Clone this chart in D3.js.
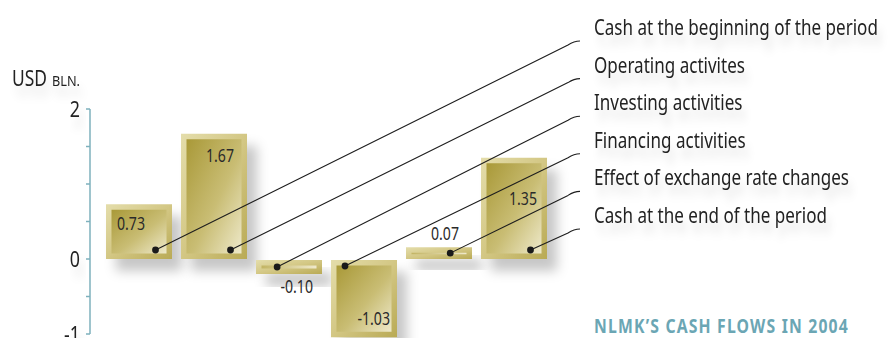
<!DOCTYPE html>
<html>
<head>
<meta charset="utf-8">
<script src="https://cdn.jsdelivr.net/npm/d3@7/dist/d3.min.js"></script>
<style>
  html, body { margin: 0; padding: 0; background: #ffffff; }
  svg { display: block; }
  text { font-family: "Noto Sans", "Open Sans", "DejaVu Sans", sans-serif; }
</style>
</head>
<body>
<svg id="chart" width="888" height="338"></svg>
<script>
// Cash flow components, USD bln.
const categories = [
  "Cash at the beginning of the period",
  "Operating activites",
  "Investing activities",
  "Financing activities",
  "Effect of exchange rate changes",
  "Cash at the end of the period"
];
const values = [0.73, 1.67, -0.10, -1.03, 0.07, 1.35];
const valueLabels = ["0.73", "1.67", "-0.10", "-1.03", "0.07", "1.35"];
const yTickValues = [2, 0, -1];
const yMinorTicks = [2, 1.5, 1, 0.5, 0, -0.5, -1];
const unitMain = "USD";
const unitSmall = "BLN.";
const title = "NLMK\u2019S CASH FLOWS IN 2004";

const W = 888, H = 338;
const svg = d3.select("#chart");
const defs = svg.append("defs");

// narrow the type the way a condensed face would: squeeze horizontally about the anchor
function condense(sel, factor) {
  sel.each(function() {
    const s = d3.select(this);
    const tx = +s.attr("x"), ty = +s.attr("y");
    s.attr("x", 0).attr("y", 0)
      .attr("transform", `translate(${tx},${ty}) scale(${factor},1)`);
  });
}

// ---- scales ----
const y = d3.scaleLinear().domain([-1, 2]).range([334, 109]);
const x = d3.scaleBand().domain(categories).range([106, 547]).paddingInner(0.12).paddingOuter(0);
const row = d3.scalePoint().domain(categories).range([41, 229]);

// ---- filters & gradients ----
function shadow(id, dx, dy, sd, op) {
  const f = defs.append("filter").attr("id", id)
    .attr("x", "-30%").attr("y", "-30%").attr("width", "180%").attr("height", "220%");
  f.append("feGaussianBlur").attr("in", "SourceAlpha").attr("stdDeviation", sd).attr("result", "b");
  f.append("feOffset").attr("in", "b").attr("dx", dx).attr("dy", dy).attr("result", "o");
  f.append("feFlood").attr("flood-color", "#000").attr("flood-opacity", op).attr("result", "c");
  f.append("feComposite").attr("in", "c").attr("in2", "o").attr("operator", "in").attr("result", "s");
  const m = f.append("feMerge");
  m.append("feMergeNode").attr("in", "s");
  m.append("feMergeNode").attr("in", "SourceGraphic");
}
shadow("barShadow", 10, 12, 6, 0.22);
shadow("textShadow", 5, 10, 5, 0.12);

const frameGrad = defs.append("linearGradient").attr("id", "frameGrad")
  .attr("x1", 0).attr("y1", 0).attr("x2", 1).attr("y2", 1);
frameGrad.append("stop").attr("offset", 0).attr("stop-color", "#e4ddab");
frameGrad.append("stop").attr("offset", 0.5).attr("stop-color", "#d3c784");
frameGrad.append("stop").attr("offset", 1).attr("stop-color", "#b9aa55");

const innerGrad = defs.append("linearGradient").attr("id", "innerGrad")
  .attr("x1", 0).attr("y1", 0).attr("x2", 1).attr("y2", 1);
innerGrad.append("stop").attr("offset", 0).attr("stop-color", "#a99938");
innerGrad.append("stop").attr("offset", 0.55).attr("stop-color", "#c9bd74");
innerGrad.append("stop").attr("offset", 1).attr("stop-color", "#eee9ca");

const stripeGrad = defs.append("linearGradient").attr("id", "stripeGrad")
  .attr("x1", 0).attr("y1", 0).attr("x2", 1).attr("y2", 0);
stripeGrad.append("stop").attr("offset", 0).attr("stop-color", "#c2b463");
stripeGrad.append("stop").attr("offset", 1).attr("stop-color", "#efe9cc");

// ---- bar geometry from values ----
const SMALL = 12, PAD = 6.5, INSET = 5.5;
const bars = categories.map((c, i) => {
  const v = values[i];
  const raw = Math.abs(y(v) - y(0));
  const h = raw < SMALL ? raw + PAD : raw;
  const x0 = x(c), w = x.bandwidth();
  const top = v >= 0 ? y(0) - h : y(0) + 1;
  return { c, v, i, x0, w, top, h, bottom: top + h, small: raw < SMALL };
});

// ---- y axis ----
const axisG = svg.append("g");
axisG.append("line")
  .attr("x1", 90).attr("x2", 90).attr("y1", y(2)).attr("y2", y(-1))
  .attr("stroke", "#7eb1bd").attr("stroke-width", 1.5);
axisG.selectAll("line.tick").data(yMinorTicks).join("line").attr("class", "tick")
  .attr("x1", 86).attr("x2", 90).attr("y1", d => y(d)).attr("y2", d => y(d))
  .attr("stroke", "#7eb1bd").attr("stroke-width", 1.5);
const tickText = axisG.selectAll("text").data(yTickValues).join("text")
  .attr("x", 80).attr("y", d => y(d) + 7.5)
  .attr("text-anchor", "end").attr("font-size", 21).attr("fill", "#222")
  .attr("filter", "url(#textShadow)")
  .text(d => d);
condense(tickText, 0.85);

const unitA = svg.append("text").attr("x", 12).attr("y", 86).attr("fill", "#222")
  .attr("font-size", 21).attr("filter", "url(#textShadow)").text(unitMain);
condense(unitA, 35 / unitA.node().getComputedTextLength());
const unitB = svg.append("text").attr("x", 52).attr("y", 86).attr("fill", "#222")
  .attr("font-size", 14.5).attr("filter", "url(#textShadow)").text(unitSmall);
condense(unitB, 28 / unitB.node().getComputedTextLength());

// ---- bars ----
const barG = svg.append("g").selectAll("g").data(bars).join("g");
barG.append("rect")
  .attr("x", d => d.x0).attr("y", d => d.top).attr("width", d => d.w).attr("height", d => d.h)
  .attr("fill", "url(#frameGrad)").attr("filter", "url(#barShadow)");
barG.append("rect")
  .attr("x", d => d.x0 + INSET).attr("y", d => d.top + INSET)
  .attr("width", d => d.w - 2 * INSET).attr("height", d => Math.max(d.h - 2 * INSET, 1.5))
  .attr("fill", d => d.small ? "url(#stripeGrad)" : "url(#innerGrad)");

// ---- value labels ----
const spots = ["top-left", "top-right", "below", "bottom-right", "above", "upper-right"];
function labelPos(b) {
  const x1 = b.x0 + b.w;
  switch (spots[b.i]) {
    case "top-left": return [b.x0 + 11, b.top + 26, "start"];
    case "top-right": return [x1 - 13, b.top + 28, "end"];
    case "upper-right": return [x1 - 10, b.top + 47, "end"];
    case "below": return [x1 - 9, b.bottom + 19, "end"];
    case "bottom-right": return [x1 - 7, b.bottom - 12, "end"];
    default: return [x1 - 13, b.top - 7, "end"];
  }
}
const valText = svg.append("g").selectAll("text").data(bars).join("text")
  .each(function(b) {
    const [lx, ly, a] = labelPos(b);
    d3.select(this).attr("x", lx).attr("y", ly).attr("text-anchor", a);
  })
  .attr("font-size", 18.5).attr("fill", "#2a2a2a")
  .text(b => valueLabels[b.i]);
const vLen = valText.nodes()[0].getComputedTextLength();
condense(valText, 28 / vLen);

// ---- leaders from each bar to its legend row ----
function anchor(b) {
  if (b.small) return [b.x0 + b.w * (b.v < 0 ? 0.32 : 0.67), b.top + b.h / 2];
  if (b.v >= 0) return [b.x0 + b.w * 0.75, b.bottom - 9];
  return [b.x0 + 14, b.top + 6];
}
const KNEE = 578, TEXT_X = 594;
const leaderG = svg.append("g");
leaderG.selectAll("line").data(bars).join("line")
  .attr("x1", KNEE).attr("x2", W).attr("y1", b => row(b.c)).attr("y2", b => row(b.c))
  .attr("stroke", "#333").attr("stroke-width", 1.5)
  .attr("filter", "url(#textShadow)");
leaderG.selectAll("path").data(bars).join("path")
  .attr("d", b => {
    const [ax, ay] = anchor(b);
    const ry = row(b.c);
    return `M${ax},${ay}L${KNEE - 10},${ry + 4}Q${KNEE - 4},${ry} ${KNEE + 2},${ry}`;
  })
  .attr("fill", "none").attr("stroke", "#1e1e1e").attr("stroke-width", 1.1);
leaderG.selectAll("circle").data(bars).join("circle")
  .attr("cx", b => anchor(b)[0]).attr("cy", b => anchor(b)[1]).attr("r", 3.4)
  .attr("fill", "#1a1a1a");

const rowText = svg.append("g").selectAll("text").data(bars).join("text")
  .attr("x", TEXT_X).attr("y", b => row(b.c) - 6)
  .attr("font-size", 22).attr("fill", "#222")
  .attr("filter", "url(#textShadow)")
  .text(b => b.c);
// the longest row spans the legend column
const firstLen = rowText.nodes()[0].getComputedTextLength();
condense(rowText, 284 / firstLen);

// ---- title ----
const t = svg.append("text").attr("x", TEXT_X).attr("y", 333)
  .attr("font-size", 20).attr("font-weight", "bold").attr("fill", "#6ba6b4")
  .attr("letter-spacing", 1.5)
  .text(title);
condense(t, 255 / t.node().getComputedTextLength());
</script>
</body>
</html>
